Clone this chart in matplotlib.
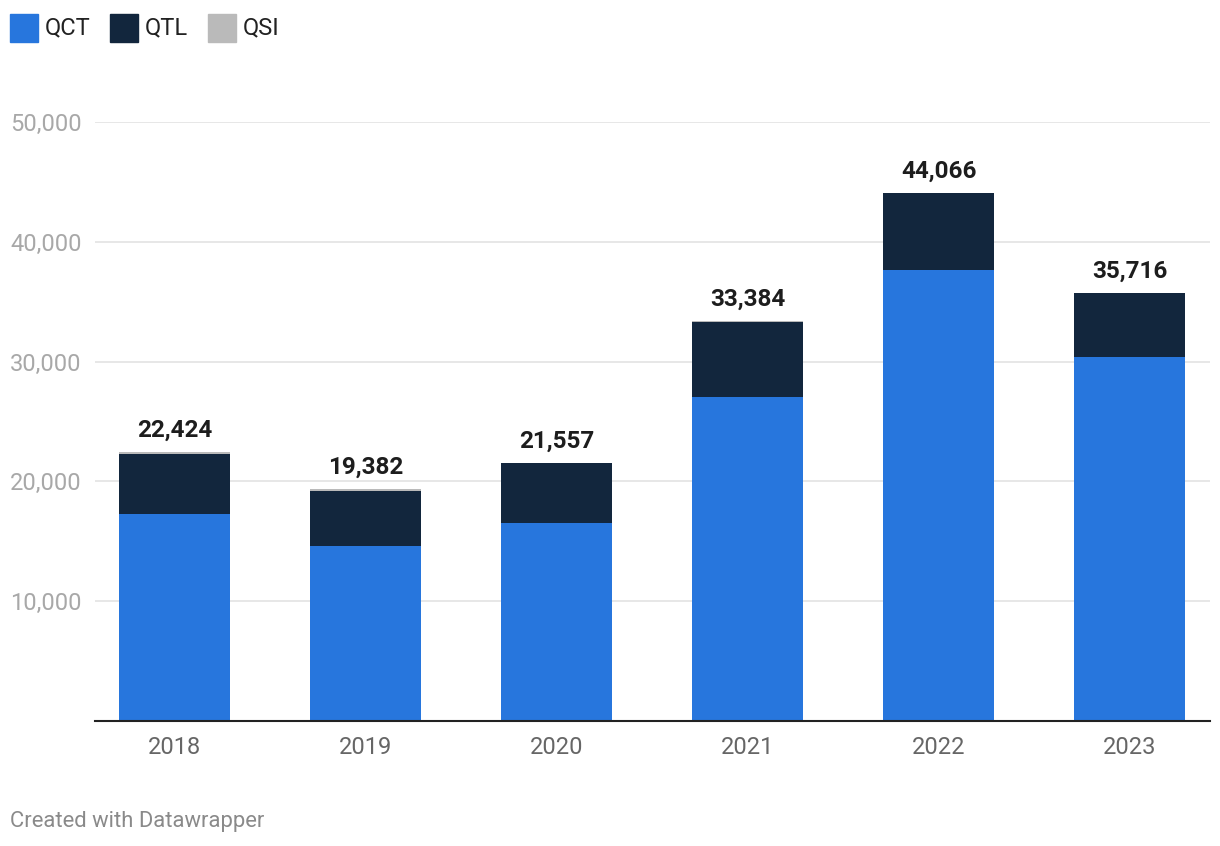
import matplotlib.pyplot as plt
from matplotlib.patches import Rectangle
import numpy as np

plt.rcParams['font.family'] = ['Roboto', 'DejaVu Sans']

years = ["2018", "2019", "2020", "2021", "2022", "2023"]
qct = [17282, 14639, 16493, 27019, 37677, 30382]
qtl = [5042, 4591, 5028, 6320, 6358, 5306]
qsi = [100, 152, 36, 45, 31, 28]
totals = [22424, 19382, 21557, 33384, 44066, 35716]

c_qct = "#2776dd"
c_qtl = "#12263d"
c_qsi = "#bababa"

W, H = 1220, 846
fig = plt.figure(figsize=(W / 100, H / 100), dpi=100)
ax = fig.add_axes([95 / W, 1 - 721 / H, (1210 - 95) / W, (721 - 122) / H])

x = np.arange(len(years))
bw = 0.58
qct_a = np.array(qct)
qtl_a = np.array(qtl)
ax.bar(x, qct_a, bw, color=c_qct, zorder=3)
ax.bar(x, qtl_a, bw, bottom=qct_a, color=c_qtl, zorder=3)
ax.bar(x, qsi, bw, bottom=qct_a + qtl_a, color=c_qsi, zorder=3)

for xi, tot in zip(x, totals):
    top = qct[xi] + qtl[xi] + qsi[xi]
    ax.annotate(f"{tot:,}", (xi, top), xytext=(0, 7.5), textcoords="offset points",
                ha="center", va="bottom", fontsize=17.5, fontweight="bold",
                color="#1d1d1d", annotation_clip=False)

ax.set_xlim(-0.416, 5.42)
ax.set_ylim(0, 50000)
ax.set_yticks([10000, 20000, 30000, 40000, 50000])
ax.set_yticklabels([f"{v:,}" for v in [10000, 20000, 30000, 40000, 50000]])
ax.set_xticks(x)
ax.set_xticklabels(years)
ax.tick_params(axis="y", length=0, pad=9.5, labelsize=17, labelcolor="#a8a8a8")
ax.tick_params(axis="x", length=0, pad=11, labelsize=17, labelcolor="#666666")
ax.grid(axis="y", color="#e3e3e3", linewidth=1.2, zorder=0)
for s in ["top", "right", "left"]:
    ax.spines[s].set_visible(False)
ax.spines["bottom"].set_color("#222222")
ax.spines["bottom"].set_linewidth(1.5)
ax.spines["bottom"].set_zorder(4)

# legend
legend_items = [("QCT", c_qct, 10), ("QTL", c_qtl, 110), ("QSI", c_qsi, 208)]
for name, col, px in legend_items:
    fig.add_artist(Rectangle((px / W, 1 - 42 / H), 28 / W, 28 / H,
                             transform=fig.transFigure, color=col))
    fig.text((px + 35) / W, 1 - 28 / H, name, fontsize=17, color="#222222",
             va="center", ha="left")

fig.text(10 / W, 1 - 821 / H, "Created with Datawrapper", fontsize=15.8,
         color="#8a8a8a", va="center", ha="left")

fig.savefig("out.png", dpi=100, facecolor="white")
